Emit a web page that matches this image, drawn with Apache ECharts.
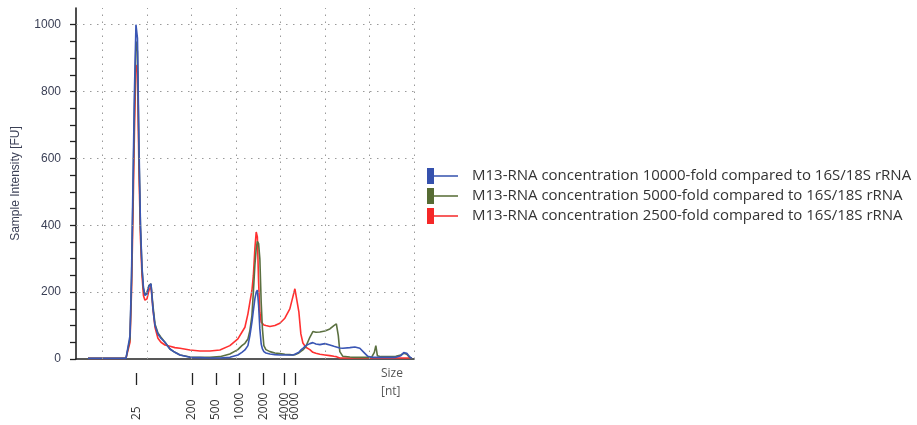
<!DOCTYPE html>
<html>
<head>
<meta charset="utf-8">
<script src="https://cdn.jsdelivr.net/npm/echarts@6/dist/echarts.min.js"></script>
<style>
  html, body { margin: 0; padding: 0; background: #fff; }
  #chart { width: 917px; height: 425px; }
</style>
</head>
<body>
<div id="chart"></div>
<script>
// Migration time in seconds, shared by all three traces
const timeSec = [
  23.35, 24.70, 26.38, 27.62, 27.84, 28.07, 28.24, 28.40, 28.57, 28.74,
  28.91, 29.08, 29.25, 29.42, 29.58, 29.75, 29.98, 30.20, 30.43, 30.65,
  30.88, 31.21, 31.55, 32.00, 32.56, 33.12, 33.69, 34.81, 35.93, 37.06,
  38.18, 39.30, 40.20, 40.65, 40.99, 41.33, 41.55, 41.78, 41.94, 42.11,
  42.26, 42.39, 42.53, 42.67, 42.82, 42.96, 43.12, 43.35, 43.80, 44.36,
  44.92, 45.48, 46.04, 46.38, 46.61, 46.83, 47.06, 47.28, 47.51, 47.84,
  48.29, 48.63, 48.97, 49.42, 49.98, 50.54, 50.99, 51.27, 51.49, 51.66,
  52.00, 52.79, 53.35, 53.91, 54.36, 54.81, 55.26, 55.54, 55.71, 55.88,
  56.27, 57.06, 57.96, 58.52, 58.85, 59.19, 59.53, 59.75
];

// Fluorescence [FU] for each dilution
const fu10000 = [
  2, 2, 2, 2, 5, 70, 250, 520, 800, 1000,
  960, 640, 400, 275, 215, 190, 195, 218, 225, 150,
  100, 75, 62, 50, 30, 20, 12, 5, 4, 3,
  3, 5, 12, 20, 27, 40, 70, 110, 145, 180,
  200, 206, 160, 90, 45, 30, 22, 18, 15, 13,
  12, 12, 12, 12, 14, 15, 20, 27, 32, 40,
  46, 49, 45, 43, 46, 42, 38, 36, 34, 33,
  32, 34, 36, 32, 20, 8, 5, 5, 5, 5,
  5, 5, 5, 10, 19, 17, 6, 2
];
const fu5000 = [
  2, 2, 2, 2, 5, 60, 230, 480, 750, 950,
  920, 610, 390, 270, 210, 192, 200, 220, 225, 160,
  105, 78, 65, 50, 30, 20, 12, 6, 5, 5,
  7, 15, 28, 40, 47, 60, 85, 130, 200, 280,
  330, 352, 345, 300, 170, 90, 40, 28, 22, 18,
  16, 14, 13, 12, 13, 15, 18, 22, 27, 37,
  65, 82, 80, 81, 84, 90, 100, 105, 70, 22,
  8, 6, 5, 5, 5, 5, 6, 20, 40, 10,
  7, 7, 8, 12, 17, 14, 4, 2
];
const fu2500 = [
  2, 2, 2, 2, 5, 50, 200, 420, 680, 880,
  860, 560, 360, 250, 190, 176, 180, 205, 218, 150,
  95, 62, 50, 42, 38, 34, 32, 27, 24, 24,
  27, 40, 60, 80, 95, 135, 170, 205, 250, 330,
  380, 365, 230, 140, 110, 105, 102, 100, 97, 100,
  107, 122, 150, 186, 210, 205, 140, 75, 48, 35,
  28, 20, 17, 14, 12, 10, 8, 7, 5, 3,
  3, 3, 3, 3, 3, 3, 3, 3, 3, 3,
  3, 3, 3, 3, 3, 3, 3, 2
];

// Ladder sizes and where they run on the time axis
const sizeLabels = ['25', '200', '500', '1000', '2000', '4000', '6000'];
const sizeTimes = [28.82, 35.03, 37.73, 40.35, 43.04, 45.40, 46.61];

// Axis ticks and dotted grid positions
const timeGrid = [25, 30, 35, 40, 45, 50, 55, 60];
const fuGrid = [200, 400, 600, 800, 1000];
const fuLabels = [0, 200, 400, 600, 800, 1000];
const fuTicks = [0, 50, 100, 150, 200, 250, 300, 350, 400, 450, 500,
                 550, 600, 650, 700, 750, 800, 850, 900, 950, 1000];

const seriesNames = [
  'M13-RNA concentration 10000-fold compared to 16S/18S rRNA',
  'M13-RNA concentration 5000-fold compared to 16S/18S rRNA',
  'M13-RNA concentration 2500-fold compared to 16S/18S rRNA'
];
const colors = ['#3551ad', '#566b33', '#f52828'];

const legendIcon = 'path://M0,0H7V16H0Z M7,7.3H31V8.7H7Z';

function pairs(vals) {
  return timeSec.map((t, i) => [t, vals[i]]);
}

function sizeFor(v) {
  let best = -1, d = 1e9;
  sizeTimes.forEach((t, i) => {
    const e = Math.abs(t - v);
    if (e < d) { d = e; best = i; }
  });
  return d < 0.05 ? sizeLabels[best] : '';
}

// The ladder row is split over two axes so that neighbouring
// markers (4000/6000) are never thinned out by the label layout.
function ladderAxis(values) {
  return {
    type: 'value',
    min: 22,
    max: 60,
    position: 'bottom',
    offset: 14,
    axisLine: { show: false, onZero: false },
    axisTick: {
      show: true,
      customValues: values,
      length: 12,
      lineStyle: { color: '#222', width: 1.3 }
    },
    axisLabel: {
      show: true,
      customValues: values,
      formatter: sizeFor,
      hideOverlap: false,
      rotate: 90,
      align: 'left',
      margin: 47,
      fontFamily: 'Open Sans',
      fontSize: 12,
      lineHeight: 12,
      color: '#333333'
    },
    splitLine: { show: false }
  };
}

const dotted = { color: '#9a9a9a', width: 1, type: [1.5, 5.5] };

const chart = echarts.init(document.getElementById('chart'), null, { renderer: 'canvas' });

chart.setOption({
  animation: false,
  backgroundColor: '#ffffff',
  grid: { left: 76, right: 503, top: 8, bottom: 66, containLabel: false },
  legend: {
    orient: 'vertical',
    left: 427,
    top: 168,
    padding: 0,
    itemWidth: 31,
    itemHeight: 16,
    itemGap: 4,
    icon: legendIcon,
    data: seriesNames.map((n, i) => ({ name: n, itemStyle: { color: colors[i] } })),
    textStyle: {
      fontFamily: 'Open Sans',
      fontSize: 15,
      color: '#333333',
      padding: [0, 0, 0, 9]
    },
    selectedMode: false
  },
  graphic: [
    {
      type: 'text',
      left: 381,
      top: 365,
      style: {
        text: 'Size\n[nt]',
        font: '12px "Open Sans"',
        fill: '#555555',
        lineHeight: 18,
        textAlign: 'left'
      }
    }
  ],
  xAxis: [
    {
      type: 'value',
      min: 22,
      max: 60,
      axisLine: { show: true, onZero: false, lineStyle: { color: '#222', width: 1.6 } },
      axisTick: { show: false },
      axisLabel: { show: false },
      splitLine: { show: false }
    },
    ladderAxis(sizeTimes.filter((t, i) => i % 2 === 0)),
    ladderAxis(sizeTimes.filter((t, i) => i % 2 === 1))
  ],
  yAxis: {
    type: 'value',
    min: 0,
    max: 1050,
    name: 'Sample Intensity [FU]',
    nameLocation: 'middle',
    nameGap: 54,
    nameTextStyle: { fontFamily: 'Liberation Sans', fontSize: 12, color: '#3a3f55' },
    axisLine: { show: true, onZero: false, lineStyle: { color: '#222', width: 1.6 } },
    axisTick: {
      show: true,
      customValues: fuTicks,
      length: 6,
      lineStyle: { color: '#222', width: 1.3 }
    },
    axisLabel: {
      show: true,
      customValues: fuLabels,
      formatter: v => String(v),
      margin: 15,
      fontFamily: 'Liberation Sans',
      fontSize: 12,
      color: '#3a3f55'
    },
    splitLine: { show: false }
  },
  series: [
    {
      name: 'grid',
      type: 'line',
      data: [],
      silent: true,
      z: 1,
      markLine: {
        silent: true,
        symbol: 'none',
        label: { show: false },
        lineStyle: dotted,
        data: timeGrid.map(t => ({ xAxis: t }))
          .concat(fuGrid.map(v => ({ yAxis: v })))
      }
    },
    {
      name: seriesNames[2],
      type: 'line',
      data: pairs(fu2500),
      showSymbol: false,
      color: colors[2],
      lineStyle: { width: 1.6, color: '#ff3030' },
      z: 2
    },
    {
      name: seriesNames[1],
      type: 'line',
      data: pairs(fu5000),
      showSymbol: false,
      color: colors[1],
      lineStyle: { width: 1.6, color: '#5b7040' },
      z: 3
    },
    {
      name: seriesNames[0],
      type: 'line',
      data: pairs(fu10000),
      showSymbol: false,
      color: colors[0],
      lineStyle: { width: 1.6, color: '#3a56b4' },
      z: 4
    }
  ]
});
</script>
</body>
</html>
